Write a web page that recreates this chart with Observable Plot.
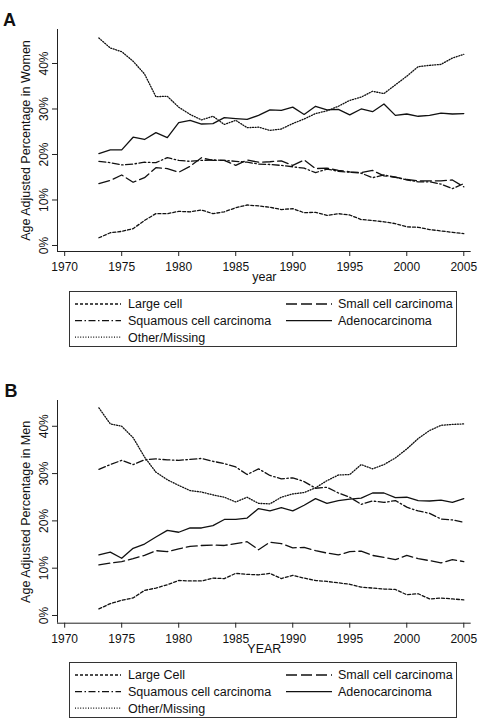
<!DOCTYPE html>
<html><head><meta charset="utf-8">
<script src="https://cdn.jsdelivr.net/npm/d3@7"></script>
<script src="https://cdn.jsdelivr.net/npm/@observablehq/plot@0.6"></script>
<style>
body{margin:0;background:#fff;}
#wrap{position:relative;width:479px;height:728px;font-family:"Liberation Sans",Arial,sans-serif;color:#111;overflow:hidden;}
.abs{position:absolute;left:0;}
</style></head><body><div id="wrap"></div>
<script>
// ---- data ----
const years = [1973,1974,1975,1976,1977,1978,1979,1980,1981,1982,1983,1984,1985,1986,1987,1988,1989,1990,1991,1992,1993,1994,1995,1996,1997,1998,1999,2000,2001,2002,2003,2004,2005];
const xTicks = [1970,1975,1980,1985,1990,1995,2000,2005];
const yTicks = [0,10,20,30,40];

const womenLarge = [1.7,2.8,3.1,3.7,5.5,7.0,7.0,7.5,7.4,7.8,7.0,7.4,8.3,8.9,8.7,8.4,7.9,8.1,7.2,7.3,6.6,7.0,6.7,5.7,5.5,5.2,4.8,4.1,4.0,3.5,3.2,2.9,2.6];
const womenSmall = [13.6,14.3,15.5,13.9,14.9,17.1,16.9,16.1,17.4,19.3,18.7,18.7,17.6,18.8,18.3,18.4,18.6,17.6,18.8,16.9,17.0,16.5,16.2,16.0,16.5,15.3,15.0,14.5,14.2,14.2,14.2,14.4,12.9];
const womenSquamous = [18.5,18.2,17.7,17.9,18.3,18.2,19.3,18.7,18.5,18.7,18.8,18.7,18.5,18.3,17.9,17.8,17.6,17.3,17.0,16.0,16.8,16.3,16.1,15.9,14.9,15.5,15.0,14.4,14.0,14.0,13.5,12.5,13.6];
const womenAdeno = [20.2,21.0,21.0,23.8,23.3,24.8,23.7,27.0,27.5,26.7,26.8,28.1,27.9,27.7,28.6,29.8,29.7,30.4,28.8,30.6,29.8,29.9,28.7,30.0,29.4,31.1,28.6,28.9,28.4,28.6,29.1,28.9,29.0];
const womenOther = [45.6,43.4,42.6,40.5,37.7,32.7,32.8,30.4,28.8,27.6,28.4,26.6,27.5,25.9,26.0,25.3,25.6,26.8,27.8,29.0,29.6,30.6,31.9,32.6,33.9,33.4,35.3,37.2,39.3,39.6,39.8,41.2,42.0];

const menLarge = [1.4,2.5,3.2,3.7,5.3,5.8,6.5,7.4,7.3,7.3,7.9,7.8,8.9,8.7,8.6,8.9,7.8,8.5,7.9,7.4,7.2,6.9,6.6,6.0,5.8,5.6,5.5,4.4,4.6,3.5,3.7,3.5,3.3];
const menSmall = [10.7,11.1,11.4,12.0,12.7,13.7,13.5,14.1,14.6,14.8,14.9,14.8,15.2,15.6,13.9,15.5,15.2,14.3,14.4,13.7,13.2,12.8,13.5,13.6,12.7,12.3,11.8,12.7,12.0,11.6,11.1,11.8,11.4];
const menSquamous = [30.9,31.9,32.8,31.9,32.9,33.1,32.9,32.8,33.0,33.2,32.6,32.1,31.4,29.8,31.0,29.6,28.9,29.1,28.3,26.9,27.1,25.9,25.0,23.5,24.2,23.9,24.3,22.9,22.1,21.6,20.4,20.2,19.7];
const menAdeno = [12.8,13.4,12.1,14.2,15.1,16.6,18.0,17.6,18.5,18.5,19.0,20.3,20.3,20.6,22.6,22.1,22.8,22.1,23.3,24.7,23.7,24.3,24.6,24.8,25.9,25.9,24.9,25.0,24.3,24.2,24.4,23.9,24.7];
const menOther = [43.9,40.5,40.0,37.6,33.5,30.3,28.7,27.5,26.4,26.1,25.5,25.0,24.0,25.0,23.7,23.6,25.0,25.7,26.0,27.0,28.5,29.7,29.8,31.9,31.0,31.9,33.3,35.2,37.4,39.1,40.2,40.4,40.5];

const womenNames = ["Large cell","Small cell carcinoma","Squamous cell carcinoma","Adenocarcinoma","Other/Missing"];
const menNames = ["Large Cell","Small cell carcinoma","Squamous cell carcinoma","Adenocarcinoma","Other/Missing"];
const dashes = ["3,2","11,4","7,2.5,1.5,2.5",null,"1,1.6"];

// ---- drawing ----
const FONT = '"Liberation Sans", Arial, sans-serif';
const wrap = document.getElementById("wrap");
const xDomain = [1969.37, 2005.65];

function panel(values, yDomain, top, height, mTop, mBottom, yLabel, xLabel, xLabelDy) {
  const marks = [
    Plot.ruleX([xDomain[0]], {stroke: "#222", strokeWidth: 1}),
    Plot.ruleY([yDomain[0]], {stroke: "#222", strokeWidth: 1}),
    Plot.axisY({ticks: yTicks, tickSize: 5, tickFormat: () => "", label: null, stroke: "#222"}),
    Plot.text(yTicks, {y: d => d, frameAnchor: "left", dx: -13.5, rotate: -90, text: d => d + "%", fontSize: 12, textAnchor: "middle", lineAnchor: "middle", fill: "#111"}),
    Plot.axisX({ticks: xTicks, tickSize: 5, tickPadding: 6, tickFormat: d => String(d), label: null, stroke: "#222", fill: "#111"}),
    Plot.text([yLabel], {text: d => d, frameAnchor: "left", dx: -31.5, rotate: -90, fontSize: 12.5, textAnchor: "middle", lineAnchor: "middle", fill: "#111"}),
    Plot.text([xLabel], {text: d => d, frameAnchor: "bottom", dy: xLabelDy, fontSize: 12.5, textAnchor: "middle", lineAnchor: "bottom", fill: "#111"})
  ];
  values.forEach((vals, i) => {
    const rows = years.map((yr, j) => ({year: yr, value: vals[j]}));
    marks.push(Plot.line(rows, {x: "year", y: "value", stroke: "#111", strokeWidth: 1.3, strokeDasharray: dashes[i] || undefined, strokeLinejoin: "round"}));
  });
  const svg = Plot.plot({
    width: 479, height,
    marginLeft: 57, marginRight: 8.3, marginTop: mTop, marginBottom: mBottom,
    x: {domain: xDomain}, y: {domain: yDomain},
    style: {fontFamily: FONT, fontSize: "12px", background: "transparent", color: "#111"},
    marks
  });
  svg.classList.add("abs");
  svg.style.top = top + "px";
  wrap.appendChild(svg);
}

function legend(names, top) {
  const svg = d3.create("svg").attr("width", 479).attr("height", 60).attr("class", "abs")
    .style("top", (top - 1) + "px").style("font-family", FONT);
  svg.append("rect").attr("x", 69.5).attr("y", 1.5).attr("width", 387).attr("height", 55)
    .attr("fill", "white").attr("stroke", "#333").attr("stroke-width", 1);
  const pos = [[0,0],[1,0],[0,1],[1,1],[0,2]];
  names.forEach((nm, i) => {
    const [c, r] = pos[i];
    const lx = c ? 286 : 75, tx = c ? 338 : 128;
    const cy = 14 + r * 16.6;
    const ln = svg.append("line").attr("x1", lx).attr("x2", lx + 46).attr("y1", cy).attr("y2", cy)
      .attr("stroke", "#111").attr("stroke-width", 1.3);
    if (dashes[i]) ln.attr("stroke-dasharray", dashes[i]);
    svg.append("text").attr("x", tx).attr("y", cy + 4.3).attr("font-size", 12.5).attr("fill", "#111").text(nm);
  });
  wrap.appendChild(svg.node());
}

panel([womenLarge, womenSmall, womenSquamous, womenAdeno, womenOther], [-1.32, 47.47], 0, 285, 29, 34,
      "Age Adjusted Percentage in Women", "year", 29);
legend(womenNames, 291);
panel([menLarge, menSmall, menSquamous, menAdeno, menOther], [-1.63, 45.45], 365, 295, 35, 37.3,
      "Age Adjusted Percentage in Men", "YEAR", 30);
legend(menNames, 661.7);

// panel tags
const tags = d3.create("svg").attr("width", 479).attr("height", 728).attr("class", "abs")
  .style("top", "0px").style("pointer-events", "none").style("font-family", FONT);
tags.append("text").attr("x", 3).attr("y", 26).attr("font-size", 18).attr("font-weight", "bold").attr("fill", "#111").text("A");
tags.append("text").attr("x", 4.5).attr("y", 396.7).attr("font-size", 18).attr("font-weight", "bold").attr("fill", "#111").text("B");
wrap.appendChild(tags.node());
</script>
</body></html>
